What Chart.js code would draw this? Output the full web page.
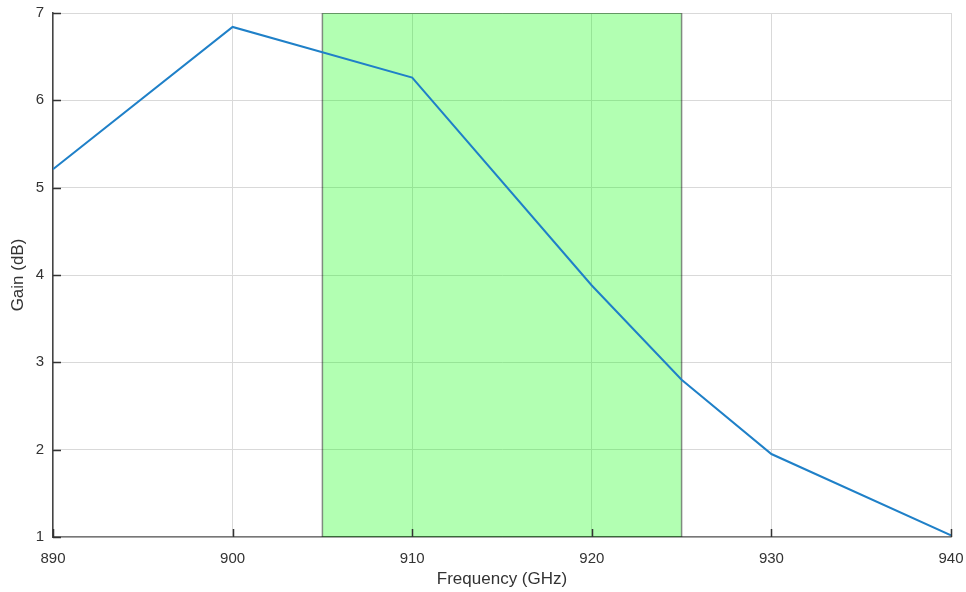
<!DOCTYPE html>
<html>
<head>
<meta charset="utf-8">
<script src="https://cdn.jsdelivr.net/npm/chart.js@4/dist/chart.umd.min.js"></script>
<style>
  html, body { margin: 0; padding: 0; background: #fff; }
  #wrap { width: 966px; height: 592px; }
</style>
</head>
<body>
<div id="wrap"><canvas id="myChart" width="966" height="592"></canvas></div>
<script>
// frequency (GHz) and gain (dB)
const freq = [890, 900, 910, 920, 925, 930, 940];
const gain = [5.21, 6.84, 6.26, 3.88, 2.80, 1.95, 1.02];

// shaded band
const bandStart = 905;
const bandEnd = 925;
const bandLow = 1;
const bandHigh = 7;

const xTicks = [890, 900, 910, 920, 930, 940];
const yTicks = [1, 2, 3, 4, 5, 6, 7];

const gainPoints = freq.map((f, i) => ({ x: f, y: gain[i] }));
const bandTop = [{ x: bandStart, y: bandHigh }, { x: bandEnd, y: bandHigh }];
const bandEdge = [
  { x: bandStart, y: bandLow }, { x: bandStart, y: bandHigh },
  { x: bandEnd, y: bandHigh }, { x: bandEnd, y: bandLow },
  { x: bandStart, y: bandLow }
];

// octave style ticks pointing into the plot
const innerTicks = {
  id: "innerTicks",
  afterDraw(chart) {
    const ctx = chart.ctx;
    const xs = chart.scales.x, ys = chart.scales.y;
    const area = chart.chartArea;
    ctx.save();
    ctx.strokeStyle = "#333";
    ctx.lineWidth = 1.5;
    ctx.beginPath();
    xTicks.forEach(v => {
      const px = Math.round(xs.getPixelForValue(v)) + 0.5;
      ctx.moveTo(px, area.bottom);
      ctx.lineTo(px, area.bottom - 8);
    });
    yTicks.forEach(v => {
      const py = Math.round(ys.getPixelForValue(v)) + 0.5;
      ctx.moveTo(area.left, py);
      ctx.lineTo(area.left + 8, py);
    });
    ctx.stroke();
    ctx.restore();
  }
};

function noPad(s) {
  s.paddingTop = 0; s.paddingBottom = 0;
  s.paddingLeft = 0; s.paddingRight = 0;
}

const font = "Liberation Sans, Arial, sans-serif";
const ctx = document.getElementById("myChart").getContext("2d");
new Chart(ctx, {
  type: "scatter",
  data: {
    datasets: [
      {
        label: "Gain",
        data: gainPoints,
        order: 0,
        showLine: true,
        fill: false,
        borderColor: "#1f80c8",
        borderWidth: 2,
        pointRadius: 0,
        tension: 0
      },
      {
        label: "band edge",
        data: bandEdge,
        order: 1,
        showLine: true,
        fill: false,
        borderColor: "rgba(0,0,0,0.45)",
        borderWidth: 1.5,
        pointRadius: 0,
        tension: 0
      },
      {
        label: "band fill",
        data: bandTop,
        order: 2,
        showLine: true,
        fill: "start",
        backgroundColor: "rgba(0,255,0,0.3)",
        borderWidth: 0,
        borderColor: "rgba(0,0,0,0)",
        pointRadius: 0
      }
    ]
  },
  options: {
    responsive: false,
    animation: false,
    layout: { padding: { left: 4, right: 15, top: 13, bottom: 0 } },
    plugins: {
      legend: { display: false },
      tooltip: { enabled: false }
    },
    scales: {
      x: {
        type: "linear",
        min: 890,
        max: 940,
        afterBuildTicks: s => { s.ticks = xTicks.map(v => ({ value: v })); },
        afterFit: s => { s.height = 55; noPad(s); },
        grid: { color: "#d9d9d9", drawTicks: false },
        border: { display: true, color: "#777", width: 1.5 },
        ticks: {
          padding: 13,
          color: "#333",
          font: { family: font, size: 15 }
        },
        title: {
          display: true,
          text: "Frequency (GHz)",
          color: "#333",
          padding: { top: 4, bottom: 2 },
          font: { family: font, size: 17 }
        }
      },
      y: {
        type: "linear",
        min: 1,
        max: 7,
        afterBuildTicks: s => { s.ticks = yTicks.map(v => ({ value: v })); },
        afterFit: s => { s.width = 49; noPad(s); },
        grid: { color: "#d9d9d9", drawTicks: false },
        border: { display: true, color: "#444", width: 1.5 },
        ticks: {
          padding: 9,
          color: "#333",
          font: { family: font, size: 15 }
        },
        title: {
          display: true,
          text: "Gain (dB)",
          color: "#333",
          padding: { top: 4, bottom: 4 },
          font: { family: font, size: 17 }
        }
      }
    }
  },
  plugins: [innerTicks]
});
</script>
</body>
</html>
